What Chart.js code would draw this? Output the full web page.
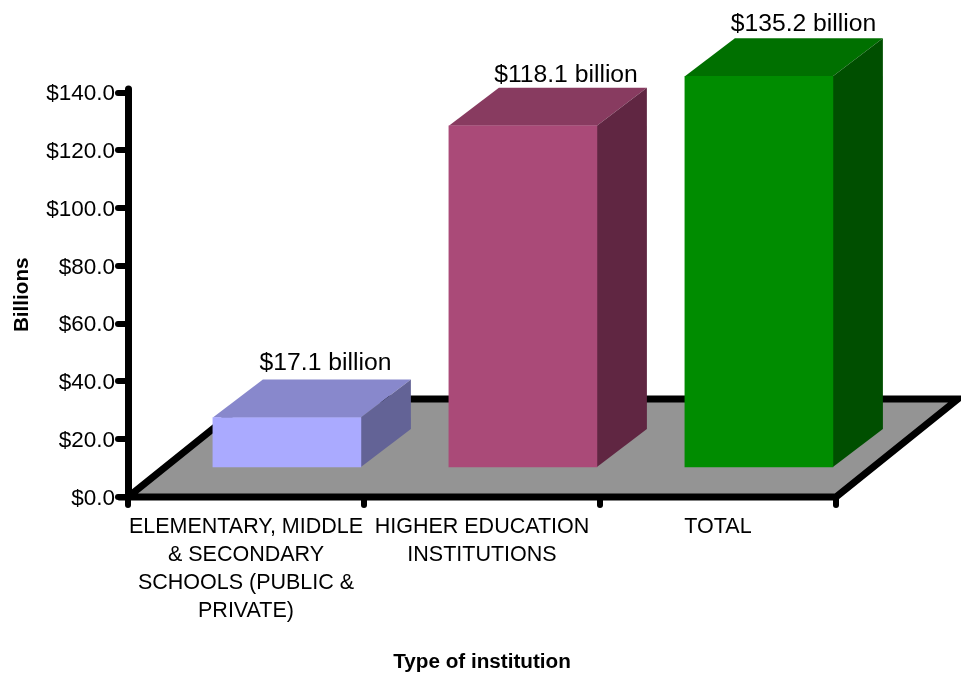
<!DOCTYPE html>
<html>
<head>
<meta charset="utf-8">
<title>Chart</title>
<script src="https://cdn.jsdelivr.net/npm/chart.js@4"></script>
<style>
html,body{margin:0;padding:0;background:#fff}
canvas{display:block}
</style>
</head>
<body>
<canvas id="c" width="961" height="675"></canvas>
<script>
const categories = [
  ["ELEMENTARY, MIDDLE", "& SECONDARY", "SCHOOLS (PUBLIC &", "PRIVATE)"],
  ["HIGHER EDUCATION", "INSTITUTIONS"],
  ["TOTAL"]
];
const values = [17.1, 118.1, 135.2];
const frontColors = ["#AAAAFF", "#AA4A78", "#008C00"];
const topColors = ["#8888CC", "#883B60", "#007000"];
const sideColors = ["#636396", "#602642", "#004F00"];

const FONT = "'Liberation Sans', Arial, sans-serif";
const FLOOR = {dx: 122, dy: -98};
const BAR_SHIFT = {dx: 40.9, dy: -30};
const BAR_DEPTH = {dx: 50, dy: -38};
const LABEL_SHIFT = [38.6, 43.1, 44.6];
const LABEL_LIFT = [16, 13, 14];

function poly(ctx, pts, fill) {
  ctx.beginPath();
  pts.forEach((p, i) => i ? ctx.lineTo(p[0], p[1]) : ctx.moveTo(p[0], p[1]));
  ctx.closePath();
  ctx.fillStyle = fill;
  ctx.fill();
}

const threeD = {
  id: "threeD",
  beforeDraw(chart) {
    const ctx = chart.ctx, x = chart.scales.x, y = chart.scales.y;
    const l = x.left, r = x.right, b = y.getPixelForValue(0);
    const pts = [[l, b], [r, b], [r + FLOOR.dx, b + FLOOR.dy], [l + FLOOR.dx, b + FLOOR.dy]];
    ctx.save();
    poly(ctx, pts, "#949494");
    ctx.strokeStyle = "#000";
    ctx.lineWidth = 7;
    ctx.lineJoin = "miter";
    ctx.stroke();
    ctx.restore();
    ctx.lineCap = "round";
  },
  beforeDatasetsDraw(chart) {
    const ctx = chart.ctx;
    ctx.save();
    ctx.translate(BAR_SHIFT.dx, BAR_SHIFT.dy);
    chart.getDatasetMeta(0).data.forEach((bar, i) => {
      const l = bar.x - bar.width / 2, r = bar.x + bar.width / 2;
      const t = bar.y, b = bar.base, d = BAR_DEPTH;
      poly(ctx, [[l, t], [r, t], [r + d.dx, t + d.dy], [l + d.dx, t + d.dy]], topColors[i]);
      poly(ctx, [[r, t], [r + d.dx, t + d.dy], [r + d.dx, b + d.dy], [r, b]], sideColors[i]);
    });
  },
  afterDatasetsDraw(chart) {
    const ctx = chart.ctx;
    ctx.restore();
    ctx.save();
    ctx.fillStyle = "#000";
    ctx.font = "24.7px " + FONT;
    ctx.textAlign = "center";
    ctx.textBaseline = "middle";
    chart.getDatasetMeta(0).data.forEach((bar, i) => {
      const label = "$" + values[i].toFixed(1) + " billion";
      ctx.fillText(label, bar.x + BAR_SHIFT.dx + LABEL_SHIFT[i], bar.y + BAR_SHIFT.dy + BAR_DEPTH.dy - LABEL_LIFT[i]);
    });
    ctx.restore();
  }
};

new Chart(document.getElementById("c"), {
  type: "bar",
  data: {
    labels: categories,
    datasets: [{
      data: values,
      backgroundColor: frontColors,
      borderWidth: 0,
      barThickness: 148,
      clip: false
    }]
  },
  plugins: [threeD],
  options: {
    responsive: false,
    animation: false,
    layout: {padding: {top: 92.5, right: 125, bottom: 0, left: 0}},
    plugins: {legend: {display: false}, tooltip: {enabled: false}},
    scales: {
      x: {
        afterFit(s) { s.height = 178; },
        border: {display: false},
        grid: {color: "#000", lineWidth: 6, tickLength: 8, drawOnChartArea: false},
        title: {
          display: true,
          text: "Type of institution",
          color: "#000",
          font: {family: FONT, size: 20.7, weight: "bold"},
          padding: {top: 0, bottom: 0}
        },
        ticks: {
          color: "#000",
          font: {family: FONT, size: 21.5, lineHeight: 1.3},
          padding: 8,
          maxRotation: 0,
          minRotation: 0,
          autoSkip: false
        }
      },
      y: {
        min: 0,
        max: 140,
        afterFit(s) { s.width = 128; },
        border: {color: "#000", width: 7},
        grid: {color: "#000", lineWidth: 0, tickColor: "#000", tickWidth: 6, tickLength: 10, drawOnChartArea: false},
        title: {
          display: true,
          text: "Billions",
          color: "#000",
          font: {family: FONT, size: 20.7, weight: "bold"},
          padding: {top: 10, bottom: 0}
        },
        ticks: {
          color: "#000",
          stepSize: 20,
          padding: 3,
          labelOffset: 1.5,
          font: {family: FONT, size: 22.5},
          callback: v => "$" + v.toFixed(1)
        }
      }
    }
  }
});
</script>
</body>
</html>
